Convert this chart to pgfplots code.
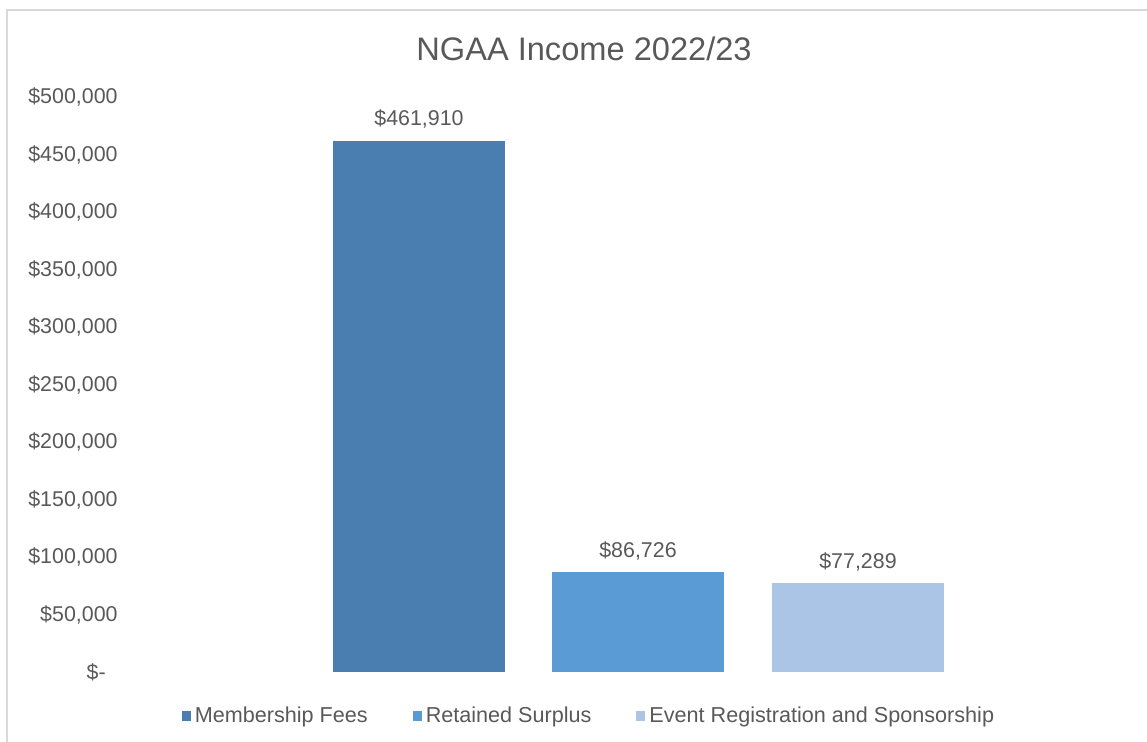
\documentclass[border=0pt]{standalone}
\usepackage{pgfplots}
\pgfplotsset{compat=1.18}
\usepackage{fontspec}
\setmainfont{Liberation Sans}
\definecolor{cA}{HTML}{4A7EB0}
\definecolor{cB}{HTML}{5B9BD5}
\definecolor{cC}{HTML}{ABC5E6}
\definecolor{txt}{HTML}{595959}
\definecolor{brd}{HTML}{D9D9D9}
\begin{document}
\begin{tikzpicture}
\useasboundingbox (0,0) rectangle (573.5pt,371pt);
\draw[brd, line width=1pt] (3.5pt,-2pt) -- (3.5pt,366pt) -- (576pt,366pt);
\node[text=txt, font=\fontsize{16.3}{19}\selectfont] at (292pt,346.5pt) {NGAA Income 2022/23};
\begin{axis}[
  at={(62.5pt,35pt)}, anchor=south west,
  scale only axis, width=511pt, height=287.5pt,
  xmin=125, xmax=1147, ymin=0, ymax=500000,
  axis line style={draw=none},
  major tick style={draw=none},
  scaled y ticks=false,
  xtick=\empty,
  ytick={0,50000,100000,150000,200000,250000,300000,350000,400000,450000,500000},
  yticklabels={{\$-\hphantom{0}},{\$50,000},{\$100,000},{\$150,000},{\$200,000},{\$250,000},{\$300,000},{\$350,000},{\$400,000},{\$450,000},{\$500,000}},
  yticklabel style={font=\fontsize{10.7}{12}\selectfont, text=txt, inner sep=0pt, anchor=east, xshift=-3.5pt},
  point meta=explicit symbolic,
  nodes near coords,
  nodes near coords style={font=\fontsize{10.7}{12}\selectfont, text=txt, anchor=base, inner sep=0pt, yshift=7.5pt},
  legend style={at={(axis cs:590,-38261)}, anchor=center, draw=none, fill=none,
    legend columns=-1, font=\fontsize{10.8}{12}\selectfont, text=txt,
    /tikz/every even column/.append style={column sep=20.5pt}},
  legend image code/.code={\fill[#1] (0pt,-2.5pt) rectangle (4.5pt,2.5pt);},
]
\addplot[ybar, bar width=172, bar shift=0pt, fill=cA, draw=none] coordinates {(419,461910) [\$461,910]};
\addlegendentry{Membership Fees}
\addplot[ybar, bar width=172, bar shift=0pt, fill=cB, draw=none] coordinates {(638,86726) [\$86,726]};
\addlegendentry{Retained Surplus}
\addplot[ybar, bar width=172, bar shift=0pt, fill=cC, draw=none] coordinates {(858,77289) [\$77,289]};
\addlegendentry{Event Registration and Sponsorship}
\end{axis}
\end{tikzpicture}
\end{document}
